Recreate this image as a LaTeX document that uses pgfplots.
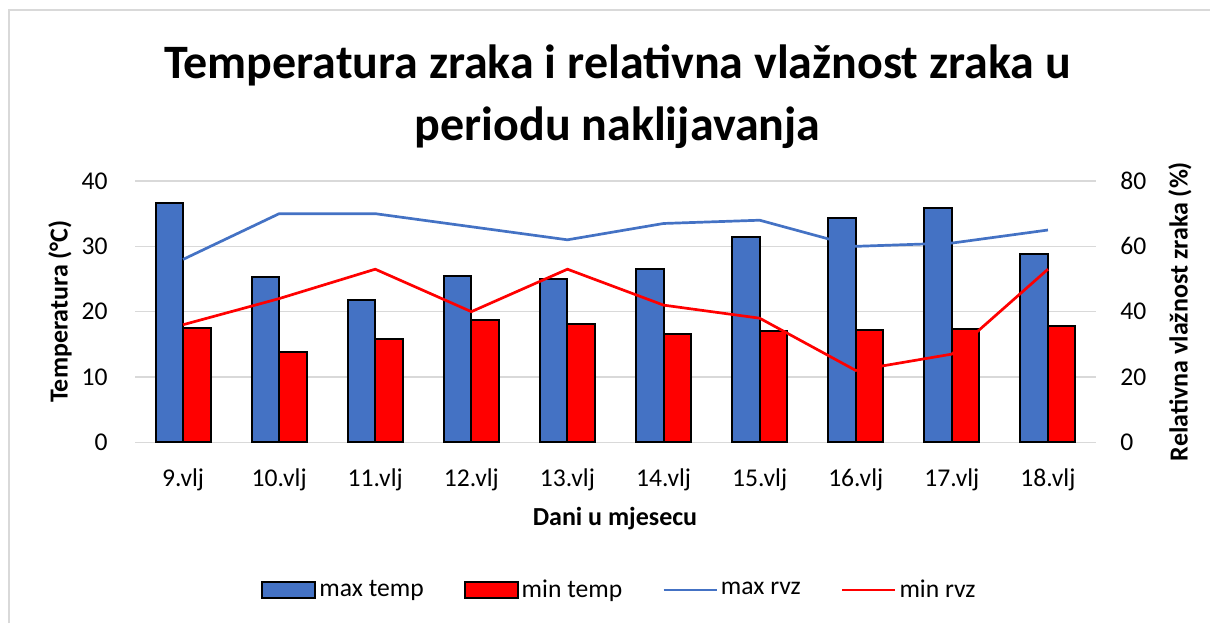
\documentclass[border=0pt]{standalone}
\usepackage{fontspec}
\setmainfont{Carlito}
\usepackage{pgfplots}
\pgfplotsset{compat=1.18}
\definecolor{xlblue}{HTML}{4472C4}
\definecolor{xlred}{HTML}{FF0000}
\definecolor{xlgrid}{HTML}{D9D9D9}
\newcommand{\tickfont}{\fontsize{12.8}{15}\selectfont}
\newcommand{\labfont}{\bfseries\fontsize{13}{15}\selectfont}
\pgfplotsset{
  barlegend/.style={legend image code/.code={\draw[##1,/tikz/.cd] (0pt,-4.2pt) rectangle (26.5pt,4.2pt);}},
  linelegend/.style={legend image code/.code={\path[draw=none,fill=none] (0pt,-4.2pt) rectangle (26.5pt,4.2pt);\draw[##1,/tikz/.cd] (0pt,0pt) -- (26.5pt,0pt);}},
}
\begin{document}
\begin{tikzpicture}[x=1pt,y=1pt]
\path[use as bounding box] (0,0) rectangle (605,311.5);
\draw[xlgrid, line width=1pt] (4.25,0) -- (4.25,306.25) -- (605,306.25);
\node[anchor=base, inner sep=0pt, font=\bfseries\fontsize{24}{28}\selectfont] at (308.75,272.5) {Temperatura zraka i relativna vlažnost zraka u};
\node[anchor=base, inner sep=0pt, font=\bfseries\fontsize{24}{28}\selectfont] at (308.75,241.5) {periodu naklijavanja};
\node[rotate=90, inner sep=0pt, font=\labfont] at (30,155.75) {Temperatura (°C)};
\node[rotate=90, inner sep=0pt, font=\labfont] at (590,155.75) {Relativna vlažnost zraka (\%)};
\node[anchor=base, inner sep=0pt, font=\labfont] at (307.5,49) {Dani u mjesecu};

\begin{axis}[
  at={(67.5pt,90.35pt)}, anchor=south west,
  scale only axis, width=480.5pt, height=130.65pt,
  xmin=-0.5, xmax=9.5, ymin=0, ymax=40,
  xtick={0,...,9},
  xticklabels={9.vlj,10.vlj,11.vlj,12.vlj,13.vlj,14.vlj,15.vlj,16.vlj,17.vlj,18.vlj},
  ytick={0,10,...,40},
  ymajorgrids, grid style={xlgrid, line width=0.75pt},
  axis x line*=bottom, axis y line*=left,
  x axis line style={xlgrid, line width=0.75pt},
  y axis line style={draw=none},
  major tick length=0pt, tick style={draw=none},
  /pgf/number format/assume math mode=true,
  ticklabel style={font=\tickfont},
  yticklabel style={anchor=east, inner sep=0pt, xshift=-13.5pt},
  xticklabel style={anchor=base, inner sep=0pt, yshift=-22.2pt},
  legend columns=4,
  legend style={at={(0.5047,-0.565)}, anchor=center, draw=none, font=\tickfont,
    /tikz/every even column/.append style={column sep=18.5pt},
    nodes={inner sep=1.5pt}},
]
\addplot[ybar, bar width=13.75pt, bar shift=-6.875pt, fill=xlblue, draw=black, line width=1pt, barlegend]
  coordinates {(0,36.7) (1,25.3) (2,21.8) (3,25.4) (4,25.0) (5,26.5) (6,31.5) (7,34.3) (8,35.8) (9,28.8)};
\addlegendentry{max temp}
\addplot[ybar, bar width=13.75pt, bar shift=6.875pt, fill=xlred, draw=black, line width=1pt, barlegend]
  coordinates {(0,17.5) (1,13.8) (2,15.8) (3,18.7) (4,18.1) (5,16.6) (6,17.0) (7,17.15) (8,17.35) (9,17.8)};
\addlegendentry{min temp}
\addlegendimage{xlblue, line width=1.35pt, linelegend}
\addlegendentry{max rvz\vphantom{p}}
\addlegendimage{xlred, line width=1.35pt, linelegend}
\addlegendentry{min rvz\vphantom{p}}
\end{axis}

\begin{axis}[
  at={(67.5pt,90.35pt)}, anchor=south west,
  scale only axis, width=480.5pt, height=130.65pt,
  xmin=-0.5, xmax=9.5, ymin=0, ymax=80,
  hide x axis,
  axis y line*=right,
  y axis line style={draw=none},
  ytick={0,20,...,80},
  major tick length=0pt, tick style={draw=none},
  /pgf/number format/assume math mode=true,
  ticklabel style={font=\tickfont},
  yticklabel style={anchor=west, inner sep=0pt, xshift=12pt},
]
\addplot[xlblue, line width=1.35pt, mark=none]
  coordinates {(0,56) (1,70) (2,70) (3,66) (4,62) (5,67) (6,68) (7,60) (8,61) (9,65)};
\addplot[xlred, line width=1.35pt, mark=none]
  coordinates {(0,36) (1,44) (2,53) (3,40) (4,53) (5,42) (6,38) (7,22) (8,27) (9,53)};
\end{axis}
\end{tikzpicture}
\end{document}
